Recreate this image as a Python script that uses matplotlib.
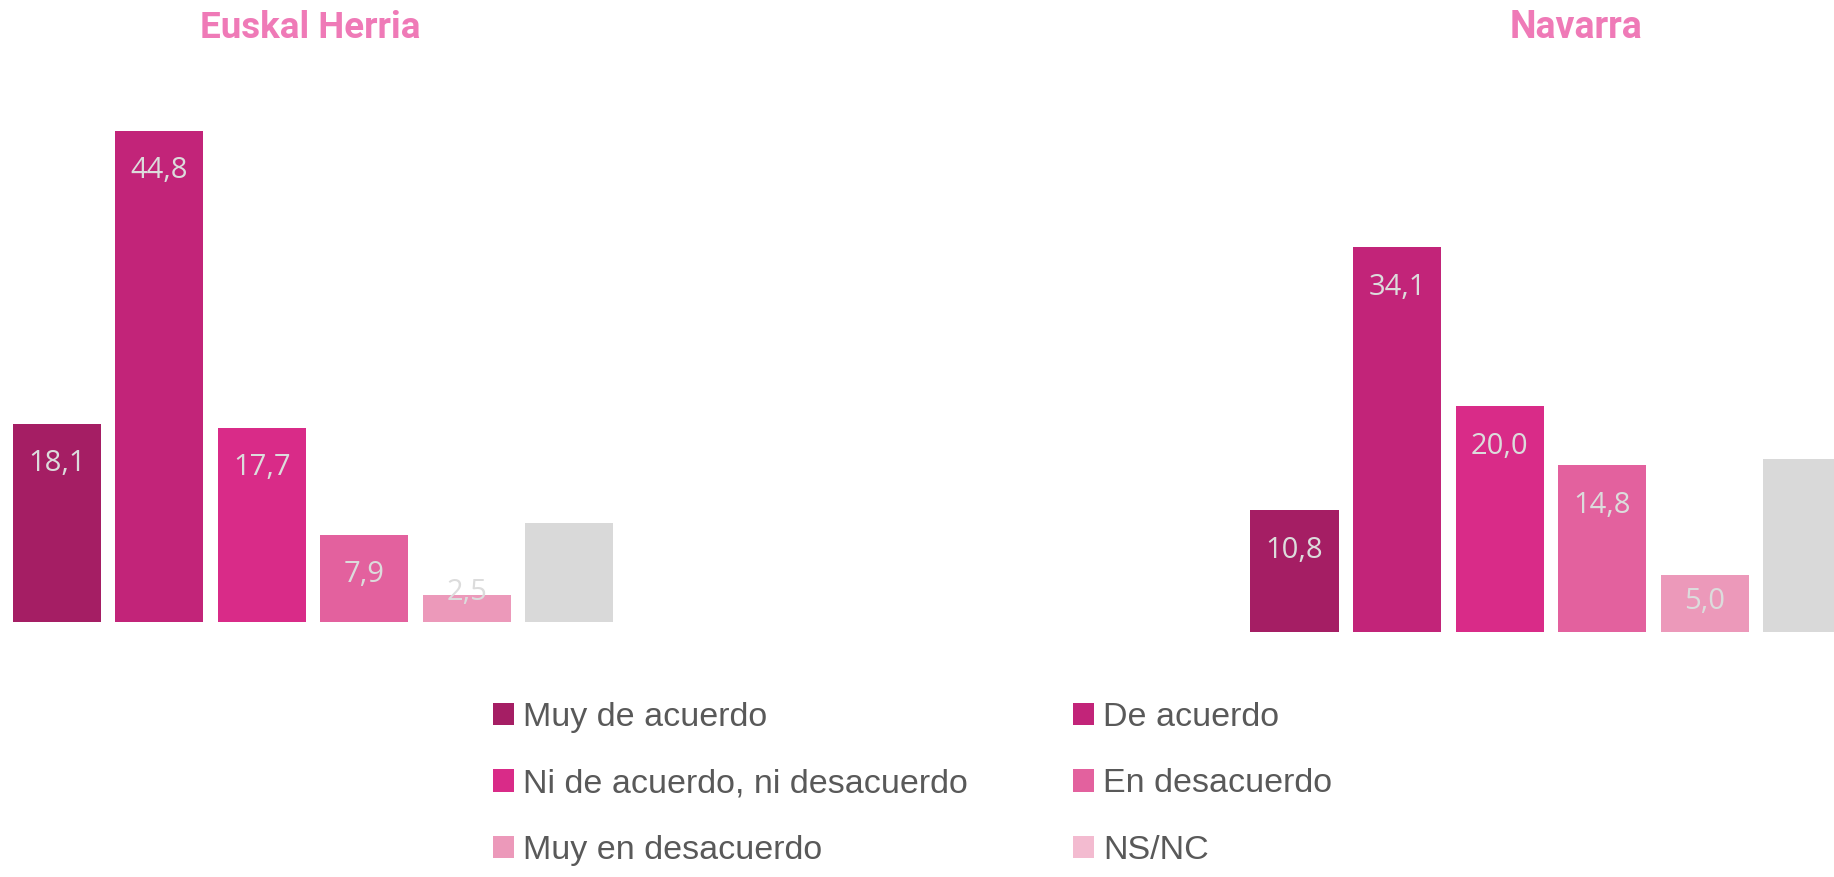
import matplotlib
matplotlib.use("Agg")
import matplotlib.pyplot as plt
from matplotlib.patches import Patch

categorias = ["Muy de acuerdo", "De acuerdo", "Ni de acuerdo, ni desacuerdo",
              "En desacuerdo", "Muy en desacuerdo", "NS/NC"]
euskal_herria = [18.1, 44.8, 17.7, 7.9, 2.5, 9.0]
navarra = [10.8, 34.1, 20.0, 14.8, 5.0, 15.3]
# NS/NC sin etiqueta en el original
etiquetas_eh = ["18,1", "44,8", "17,7", "7,9", "2,5", ""]
etiquetas_na = ["10,8", "34,1", "20,0", "14,8", "5,0", ""]

colores_barra = ["#A51E64", "#C22479", "#D92B88", "#E3619E", "#EC99BA", "#D9D9D9"]
colores_leyenda = ["#A51E64", "#C22479", "#D92B88", "#E3619E", "#EC99BA", "#F3BBD0"]

W, H = 1834, 877
fig = plt.figure(figsize=(W / 100, H / 100), dpi=100)

def panel(rect, valores, etiquetas):
    ax = fig.add_axes(rect)
    x = range(len(valores))
    ax.bar(x, valores, width=0.86, color=colores_barra)
    for i, (v, t) in enumerate(zip(valores, etiquetas)):
        if t:
            ax.text(i, max(v - 3.6, 2.7), t, ha="center", va="center",
                    color="#DCDCDC", fontsize=21, family="Open Sans")
    ax.set_xlim(-0.5, 5.5)
    ax.set_ylim(0, 50)
    ax.axis("off")
    return ax

# posiciones en pixeles del original
panel([5.8 / W, (H - 622) / H, 614.4 / W, 548 / H], euskal_herria, etiquetas_eh)
panel([1243.2 / W, (H - 631.6) / H, 615.6 / W, 564 / H], navarra, etiquetas_na)

fig.text(310 / W, 1 - 37.7 / H, "Euskal Herria", ha="center", va="baseline",
         color="#EF7AB7", fontsize=26.5, fontweight="bold", family="Roboto")
fig.text(1576.5 / W, 1 - 37.7 / H, "Navarra", ha="center", va="baseline",
         color="#EF7AB7", fontsize=27, fontweight="bold", family="Roboto")

handles = [Patch(facecolor=c, edgecolor="none") for c in colores_leyenda]
for col, x0 in [(0, 493), (1, 1073)]:
    idx = [col, col + 2, col + 4]
    leg = fig.legend([handles[i] for i in idx], [categorias[i] for i in idx],
                     loc="center left", bbox_to_anchor=(x0 / W, 1 - 784 / H),
                     frameon=False, borderpad=0, borderaxespad=0,
                     handlelength=0.62, handleheight=0.62, handletextpad=0.26,
                     labelspacing=1.05, prop={"family": "Liberation Sans", "size": 24.5},
                     labelcolor="#595959")

fig.savefig("out.png", dpi=100)
